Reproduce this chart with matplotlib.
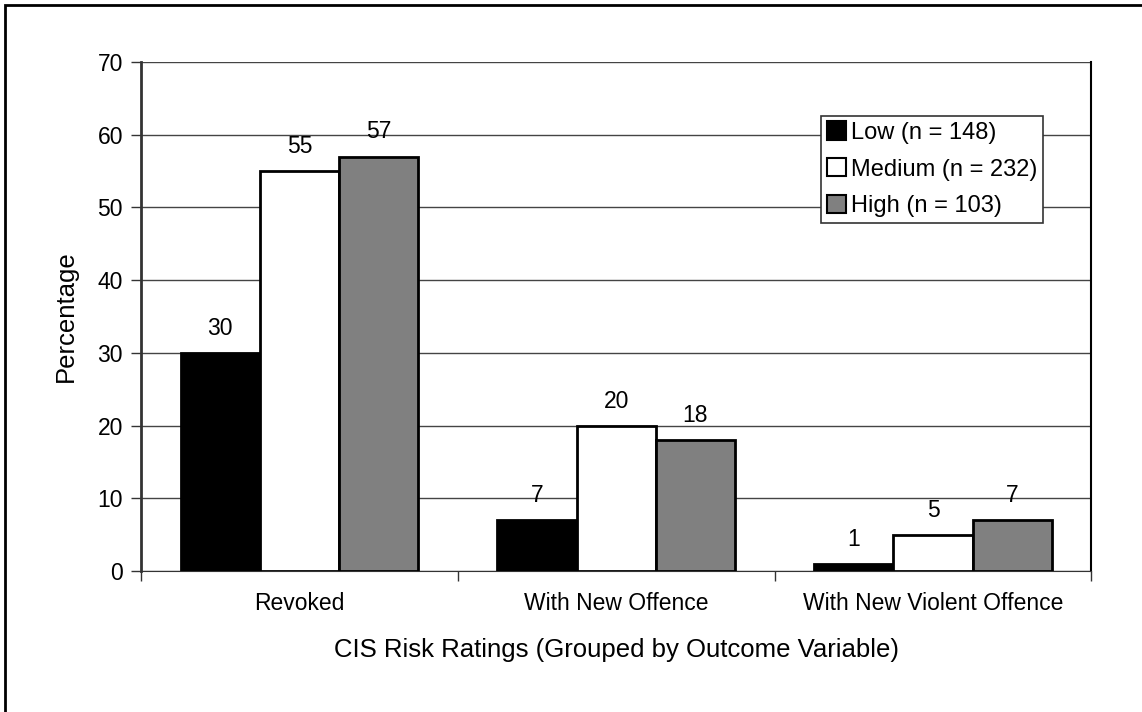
import numpy as np
import matplotlib.pyplot as plt
from matplotlib.patches import Rectangle

plt.rcParams['font.family'] = ['Liberation Sans', 'DejaVu Sans']

outcomes = ['Revoked', 'With New Offence', 'With New Violent Offence']
series = ['Low (n = 148)', 'Medium (n = 232)', 'High (n = 103)']
low = [30, 7, 1]
medium = [55, 20, 5]
high = [57, 18, 7]
colors = ['#000000', '#ffffff', '#808080']

fig = plt.figure(figsize=(11.42, 7.12), dpi=100)
ax = fig.add_axes([0.1235, 0.198, 0.8322, 0.7149])

# outer frame (only top/left fall inside the canvas)
fig.patches.append(Rectangle((5 / 1142, -0.1), 1.2, 1.1 - 5 / 712,
                             transform=fig.transFigure, fill=False,
                             edgecolor='black', linewidth=2))

x = np.arange(len(outcomes))
w = 0.25
for i, (vals, lab, c) in enumerate(zip([low, medium, high], series, colors)):
    bars = ax.bar(x + (i - 1) * w, vals, width=w, color=c, edgecolor='black',
                  linewidth=2, label=lab, zorder=3)
    for b, v in zip(bars, vals):
        ax.text(b.get_x() + b.get_width() / 2, v + 1.8, str(v),
                ha='center', va='bottom', fontsize=16.5)

ax.set_xlim(-0.5, 2.5)
ax.set_ylim(0, 70)
ax.set_yticks(range(0, 71, 10))
ax.set_xticks(x)
ax.set_xticklabels(outcomes, fontsize=16.5)
ax.set_xticks(np.arange(-0.5, 2.6, 1), minor=True)
ax.tick_params(axis='x', which='major', length=0, pad=15)
ax.tick_params(axis='x', which='minor', length=7, width=1, color='#333333')
ax.tick_params(axis='y', length=7, width=1, color='#333333', labelsize=16.5, pad=6)
ax.yaxis.grid(True, color='#444444', linewidth=1, zorder=0)
ax.set_axisbelow(True)

ax.spines['top'].set_visible(False)
ax.spines['left'].set_color('#333333')
ax.spines['left'].set_linewidth(2)
ax.spines['bottom'].set_color('#333333')
ax.spines['right'].set_color('#000000')
ax.spines['right'].set_linewidth(1.5)

ax.set_ylabel('Percentage', fontsize=18.5, labelpad=14)
ax.set_xlabel('CIS Risk Ratings (Grouped by Outcome Variable)', fontsize=18.5, labelpad=17)

leg = ax.legend(loc='lower right', bbox_to_anchor=(0.949, 0.683), fontsize=17,
                frameon=True, fancybox=False, edgecolor='#333333', framealpha=1,
                handlelength=0.8, handleheight=0.8, handletextpad=0.2,
                borderpad=0.25, labelspacing=0.62, borderaxespad=0)
leg.get_frame().set_linewidth(1.2)
for h in leg.legend_handles:
    h.set_linewidth(1.5)

fig.savefig('out.png', dpi=100)
